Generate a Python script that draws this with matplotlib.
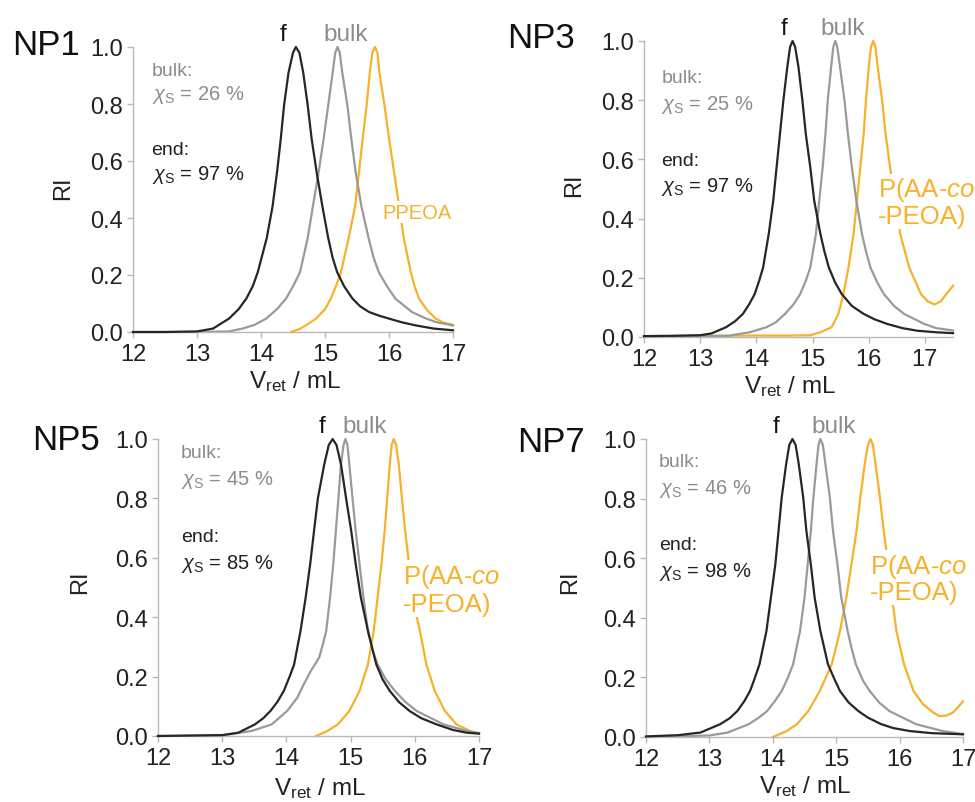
import numpy as np
import matplotlib
matplotlib.use("Agg")
from matplotlib import pyplot as plt

plt.rcParams['font.family'] = ['Liberation Sans', 'DejaVu Sans']
plt.rcParams['mathtext.fontset'] = 'custom'
plt.rcParams['mathtext.rm'] = 'Liberation Sans'
plt.rcParams['mathtext.it'] = 'Liberation Sans:italic'

# ---------------- data ----------------
# NP1
np1_f_x = [12.0, 12.5, 13.0, 13.25, 13.5, 13.65, 13.77, 13.87, 13.95, 14.02, 14.09, 14.18, 14.25, 14.31, 14.36, 14.43,
           14.5, 14.545, 14.6, 14.66, 14.73, 14.79, 14.87, 14.96, 15.05, 15.12, 15.19, 15.3, 15.43, 15.55, 15.69,
           15.85, 16.0, 16.2, 16.42, 16.7, 17.0]
np1_f_y = [0.0, 0.0, 0.002, 0.012, 0.047, 0.08, 0.117, 0.16, 0.21, 0.27, 0.33, 0.44, 0.56, 0.68, 0.795, 0.91,
           0.98, 1.0, 0.98, 0.91, 0.795, 0.68, 0.56, 0.44, 0.33, 0.26, 0.21, 0.16, 0.117, 0.09, 0.07,
           0.057, 0.047, 0.034, 0.023, 0.012, 0.006]
np1_bulk_x = [12.0, 13.0, 13.5, 13.71, 13.9, 14.08, 14.25, 14.39, 14.5, 14.61, 14.67, 14.73, 14.81, 14.9, 14.98,
              15.05, 15.12, 15.16, 15.195, 15.23, 15.27, 15.35, 15.41, 15.48, 15.57, 15.68, 15.76, 15.84, 15.97,
              16.1, 16.36, 16.55, 16.73, 17.0]
np1_bulk_y = [0.0, 0.0, 0.002, 0.012, 0.025, 0.047, 0.08, 0.117, 0.16, 0.21, 0.27, 0.33, 0.44, 0.56, 0.68,
              0.795, 0.91, 0.98, 1.0, 0.98, 0.91, 0.795, 0.68, 0.56, 0.44, 0.33, 0.26, 0.21, 0.16,
              0.117, 0.07, 0.05, 0.035, 0.023]
np1_pol_x = [14.47, 14.6, 14.7, 14.86, 15.0, 15.09, 15.17, 15.25, 15.31, 15.37, 15.47, 15.53, 15.59, 15.65, 15.70,
             15.74, 15.78, 15.82, 15.85, 15.93, 16.0, 16.08, 16.16, 16.23, 16.34, 16.4, 16.47, 16.6, 16.73, 16.85,
             17.0]
np1_pol_y = [0.0, 0.01, 0.023, 0.047, 0.08, 0.117, 0.16, 0.21, 0.27, 0.33, 0.44, 0.56, 0.68, 0.795, 0.91,
             0.98, 1.0, 0.98, 0.91, 0.795, 0.68, 0.56, 0.44, 0.33, 0.21, 0.16, 0.117, 0.075, 0.047, 0.033,
             0.025]

# NP3
np3_f_x = [12.0, 12.5, 13.0, 13.2, 13.46, 13.62, 13.76, 13.87, 13.97, 14.05, 14.12, 14.22, 14.30, 14.36, 14.42,
           14.48, 14.55, 14.60, 14.645, 14.69, 14.75, 14.82, 14.88, 14.96, 15.03, 15.14, 15.21, 15.29, 15.4,
           15.52, 15.7, 15.91, 16.1, 16.33, 16.6, 16.87, 17.2, 17.5]
np3_f_y = [0.003, 0.004, 0.006, 0.012, 0.033, 0.053, 0.078, 0.11, 0.145, 0.19, 0.235, 0.348, 0.46, 0.573, 0.686,
           0.798, 0.911, 0.98, 1.0, 0.98, 0.911, 0.798, 0.686, 0.573, 0.46, 0.348, 0.29, 0.235, 0.185,
           0.145, 0.105, 0.078, 0.06, 0.044, 0.03, 0.021, 0.016, 0.013]
np3_bulk_x = [12.0, 13.0, 13.5, 13.88, 14.18, 14.35, 14.51, 14.66, 14.78, 14.88, 14.96, 15.06, 15.12, 15.18, 15.23,
              15.27, 15.33, 15.37, 15.405, 15.44, 15.49, 15.57, 15.63, 15.70, 15.78, 15.88, 15.95, 16.03, 16.15,
              16.27, 16.45, 16.63, 16.99, 17.2, 17.5]
np3_bulk_y = [0.002, 0.003, 0.004, 0.016, 0.033, 0.05, 0.078, 0.11, 0.145, 0.19, 0.235, 0.348, 0.46, 0.573, 0.686,
              0.798, 0.911, 0.98, 1.0, 0.98, 0.911, 0.798, 0.686, 0.573, 0.46, 0.348, 0.29, 0.235, 0.185,
              0.145, 0.105, 0.078, 0.044, 0.03, 0.022]
np3_pol_x = [12.0, 13.0, 14.0, 14.6, 14.96, 15.14, 15.34, 15.46, 15.55, 15.64, 15.73, 15.79, 15.85, 15.91, 15.95,
             16.0, 16.04, 16.08, 16.12, 16.16, 16.24, 16.30, 16.38, 16.47, 16.56, 16.72, 16.93, 17.05, 17.17,
             17.28, 17.38, 17.5]
np3_pol_y = [0.003, 0.004, 0.005, 0.005, 0.006, 0.016, 0.033, 0.078, 0.145, 0.235, 0.348, 0.46, 0.573, 0.686, 0.798,
             0.911, 0.98, 1.0, 0.98, 0.911, 0.798, 0.686, 0.573, 0.46, 0.348, 0.235, 0.145, 0.12, 0.11,
             0.12, 0.145, 0.173]

# NP5
np5_f_x = [12.0, 13.0, 13.25, 13.51, 13.64, 13.75, 13.86, 13.96, 14.05, 14.12, 14.22, 14.30, 14.37, 14.43, 14.49,
           14.59, 14.66, 14.72, 14.78, 14.85, 14.93, 15.01, 15.08, 15.16, 15.27, 15.40, 15.5, 15.61, 15.75,
           15.92, 16.1, 16.34, 16.6, 16.81, 17.0]
np5_f_y = [0.0, 0.003, 0.011, 0.039, 0.06, 0.084, 0.115, 0.152, 0.2, 0.241, 0.354, 0.466, 0.578, 0.69, 0.8,
           0.915, 0.98, 1.0, 0.98, 0.915, 0.8, 0.69, 0.578, 0.466, 0.354, 0.241, 0.19, 0.152, 0.115,
           0.084, 0.06, 0.039, 0.02, 0.011, 0.008]
np5_bulk_x = [12.0, 13.0, 13.46, 13.77, 14.01, 14.17, 14.27, 14.38, 14.51, 14.57, 14.62, 14.68, 14.73, 14.77, 14.81,
              14.85, 14.89, 14.92, 14.95, 14.98, 15.03, 15.08, 15.14, 15.20, 15.27, 15.34, 15.42, 15.55, 15.69,
              15.85, 16.03, 16.45, 16.81, 17.0]
np5_bulk_y = [0.0, 0.002, 0.017, 0.039, 0.084, 0.129, 0.174, 0.219, 0.264, 0.31, 0.354, 0.466, 0.578, 0.69, 0.8,
              0.915, 0.98, 1.0, 0.98, 0.915, 0.8, 0.69, 0.578, 0.466, 0.354, 0.29, 0.241, 0.19, 0.152,
              0.115, 0.084, 0.039, 0.017, 0.01]
np5_pol_x = [14.46, 14.64, 14.8, 14.98, 15.14, 15.27, 15.36, 15.42, 15.48, 15.53, 15.57, 15.61, 15.64, 15.67, 15.71,
             15.75, 15.80, 15.85, 15.91, 15.97, 16.02, 16.08, 16.18, 16.31, 16.47, 16.65, 16.86, 17.0]
np5_pol_y = [0.0, 0.017, 0.039, 0.084, 0.152, 0.241, 0.354, 0.466, 0.578, 0.69, 0.8, 0.915, 0.98, 1.0, 0.98,
             0.915, 0.8, 0.69, 0.578, 0.466, 0.41, 0.354, 0.241, 0.152, 0.084, 0.039, 0.017, 0.008]

# NP7
np7_f_x = [12.0, 12.5, 12.86, 13.17, 13.32, 13.44, 13.55, 13.64, 13.72, 13.79, 13.90, 13.97, 14.04, 14.09, 14.14,
           14.21, 14.26, 14.31, 14.36, 14.41, 14.48, 14.53, 14.60, 14.66, 14.75, 14.81, 14.87, 14.96, 15.06,
           15.2, 15.35, 15.5, 15.71, 15.9, 16.16, 16.5, 17.0]
np7_f_y = [0.002, 0.006, 0.015, 0.043, 0.063, 0.087, 0.12, 0.154, 0.2, 0.244, 0.356, 0.468, 0.579, 0.691, 0.803,
           0.915, 0.98, 1.0, 0.98, 0.915, 0.803, 0.691, 0.579, 0.468, 0.356, 0.3, 0.244, 0.2, 0.154,
           0.115, 0.087, 0.065, 0.043, 0.03, 0.02, 0.013, 0.009]
np7_bulk_x = [12.0, 13.0, 13.29, 13.62, 13.78, 13.91, 14.03, 14.14, 14.24, 14.32, 14.43, 14.50, 14.55, 14.60, 14.64,
              14.69, 14.72, 14.75, 14.79, 14.83, 14.90, 14.95, 15.02, 15.08, 15.18, 15.24, 15.31, 15.42, 15.53,
              15.68, 15.84, 16.26, 16.68, 17.0]
np7_bulk_y = [0.0, 0.005, 0.015, 0.043, 0.065, 0.087, 0.12, 0.154, 0.2, 0.244, 0.356, 0.468, 0.579, 0.691, 0.803,
              0.915, 0.98, 1.0, 0.98, 0.915, 0.803, 0.691, 0.579, 0.468, 0.356, 0.3, 0.244, 0.19, 0.154,
              0.115, 0.087, 0.043, 0.02, 0.01]
np7_pol_x = [14.0, 14.22, 14.38, 14.56, 14.74, 14.93, 15.06, 15.16, 15.24, 15.32, 15.38, 15.45, 15.5, 15.54, 15.58,
             15.62, 15.69, 15.75, 15.82, 15.88, 15.95, 16.07, 16.22, 16.37, 16.53, 16.63, 16.74, 16.84, 16.92,
             17.0]
np7_pol_y = [0.0, 0.02, 0.043, 0.087, 0.154, 0.244, 0.356, 0.468, 0.579, 0.691, 0.803, 0.915, 0.98, 1.0, 0.98,
             0.915, 0.803, 0.691, 0.579, 0.468, 0.356, 0.244, 0.154, 0.11, 0.082, 0.07, 0.072, 0.082, 0.1,
             0.12]

names = ['NP1', 'NP3', 'NP5', 'NP7']
bulk_xs = ['26', '25', '45', '46']
end_xs = ['97', '97', '85', '98']
pol_line1 = ['PPEOA', 'P(AA-$\\mathit{co}$', 'P(AA-$\\mathit{co}$', 'P(AA-$\\mathit{co}$']
pol_line2 = ['', '-PEOA)', '-PEOA)', '-PEOA)']
yticks = [0.0, 0.2, 0.4, 0.6, 0.8, 1.0]
xticks = [12, 13, 14, 15, 16, 17]

curves = [
    (np1_f_x, np1_f_y, np1_bulk_x, np1_bulk_y, np1_pol_x, np1_pol_y),
    (np3_f_x, np3_f_y, np3_bulk_x, np3_bulk_y, np3_pol_x, np3_pol_y),
    (np5_f_x, np5_f_y, np5_bulk_x, np5_bulk_y, np5_pol_x, np5_pol_y),
    (np7_f_x, np7_f_y, np7_bulk_x, np7_bulk_y, np7_pol_x, np7_pol_y),
]

# ---------------- layout (pixels) ----------------
W, H = 975, 803
# x0, x1 (xlim span), y_top (1.0), y_bottom (0.0), xmax
boxes = [(133, 453, 48, 333, 17.0), (644, 953, 42, 338, 17.5),
         (158, 479, 440, 737, 17.0), (646, 963, 440, 738, 17.0)]
name_pos = [(12, 55), (507, 48), (32, 450), (517, 452)]
xlabel_pos = [(295, 388), (790, 393), (320, 795), (805, 793)]
ylabel_pos = [(63, 188), (574, 185), (80, 582), (570, 582)]
# text x, baselines (bulk:, chi, end:, chi)
note_x = [12.29, 12.31, 12.36, 12.2]
note_y = [(0.90, 0.817, 0.624, 0.537), (0.86, 0.77, 0.58, 0.494),
          (0.938, 0.848, 0.657, 0.567), (0.91, 0.82, 0.63, 0.54)]
top_f_x = [14.34, 14.49, 14.55, 14.05]
top_bulk_x = [15.32, 15.53, 15.22, 14.96]
# label x (left), line1 centre y, line2 centre y
pol_pos = [(15.9, 0.42, 0.0), (16.16, 0.50, 0.41), (15.82, 0.54, 0.444), (15.53, 0.575, 0.486)]
pol_size = [14.5, 18.5, 18.5, 18.5]

c_f = '#262626'
c_bulk = '#9a9a9a'
c_bulk_txt = '#8c8c8c'
c_pol = '#f7b12a'
c_spine = '#b8b8b8'

fig = plt.figure(figsize=(W / 100, H / 100), dpi=100)

for i in range(4):
    x0, x1, yt, yb, xmax = boxes[i]
    ax = fig.add_axes([x0 / W, 1 - yb / H, (x1 - x0) / W, (yb - yt) / H])
    fx, fy, bx, by, px, py = curves[i]
    ax.plot(fx, fy, color=c_f, lw=1.6, clip_on=False, zorder=3, solid_joinstyle='round')
    ax.plot(bx, by, color=c_bulk, lw=1.6, clip_on=False, zorder=2, solid_joinstyle='round')
    ax.plot(px, py, color=c_pol, lw=1.6, clip_on=False, zorder=1, solid_joinstyle='round')
    ax.set_xlim(12, xmax)
    ax.set_ylim(0, 1)
    ax.set_xticks(xticks)
    ax.set_yticks(yticks)
    ax.set_yticklabels(['%.1f' % v for v in yticks])
    for s in ['top', 'right']:
        ax.spines[s].set_visible(False)
    for s in ['left', 'bottom']:
        ax.spines[s].set_color(c_spine)
        ax.spines[s].set_linewidth(1.0)
    ax.tick_params(axis='both', colors=c_spine, labelcolor='#222222', labelsize=17, length=4, width=1.0)
    ax.tick_params(axis='x', pad=4)
    ax.tick_params(axis='y', pad=3)

    # axis titles placed where they sit in the figure
    lx, ly = xlabel_pos[i]
    fig.text(lx / W, 1 - ly / H, 'V$_{\\mathregular{ret}}$ / mL', fontsize=17.5, color='#222222',
             ha='center', va='baseline')
    rx, ry = ylabel_pos[i]
    fig.text(rx / W, 1 - ry / H, 'RI', fontsize=17, color='#222222', rotation=90, ha='center', va='center')

    nx, ny = name_pos[i]
    fig.text(nx / W, 1 - ny / H, names[i], fontsize=25, color='#111111', ha='left', va='baseline')

    tx = note_x[i]
    b1, b2, b3, b4 = note_y[i]
    ax.text(tx, b1, 'bulk:', fontsize=14, color=c_bulk_txt, va='baseline')
    ax.text(tx, b2, '$\\chi_{\\mathrm{S}}$ = %s %%' % bulk_xs[i], fontsize=14.5, color=c_bulk_txt, va='baseline')
    ax.text(tx, b3, 'end:', fontsize=14, color='#222222', va='baseline')
    ax.text(tx, b4, '$\\chi_{\\mathrm{S}}$ = %s %%' % end_xs[i], fontsize=14.5, color='#222222', va='baseline')

    ax.text(top_f_x[i], 1.025, 'f', fontsize=17.5, color='#111111', ha='center', va='baseline', clip_on=False)
    ax.text(top_bulk_x[i], 1.025, 'bulk', fontsize=17.5, color=c_bulk_txt, ha='center', va='baseline', clip_on=False)

    px0, ly1, ly2 = pol_pos[i]
    for txt, ly in [(pol_line1[i], ly1), (pol_line2[i], ly2)]:
        if txt:
            ax.text(px0, ly, txt, fontsize=pol_size[i], color=c_pol, ha='left', va='center',
                    clip_on=False, zorder=1.5,
                    bbox=dict(facecolor='white', edgecolor='none', pad=1))

fig.savefig('out.png', dpi=100, facecolor='white')
